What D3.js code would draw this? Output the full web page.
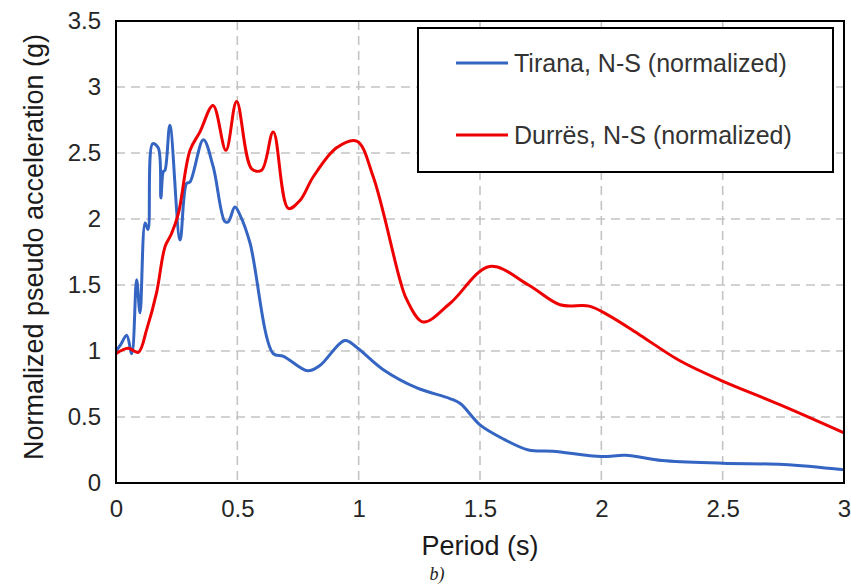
<!DOCTYPE html>
<html><head><meta charset="utf-8">
<script src="https://cdn.jsdelivr.net/npm/d3@7"></script>
<style>body{margin:0;background:#fff}svg{display:block}</style>
</head><body>
<svg id="c" width="851" height="586"></svg>
<script>
const xTicks = [0, 0.5, 1, 1.5, 2, 2.5, 3];
const yTicks = [0, 0.5, 1, 1.5, 2, 2.5, 3, 3.5];
const seriesNames = ["Tirana, N-S (normalized)", "Durrës, N-S (normalized)"];
const seriesColors = ["#3565c2", "#ee0000"];

const tiranaT = [0, 0.02, 0.044, 0.065, 0.085, 0.099, 0.12, 0.132, 0.151, 0.174, 0.185, 0.195, 0.202, 0.222, 0.264, 0.291, 0.305, 0.36, 0.40, 0.449, 0.463, 0.49, 0.511, 0.552, 0.648, 0.69, 0.79, 0.84, 0.943, 0.99, 1.10, 1.24, 1.376, 1.42, 1.5, 1.6, 1.7, 1.8, 2.0, 2.1, 2.25, 2.5, 2.75, 3.0];
const tiranaV = [1.0, 1.05, 1.12, 0.98, 1.54, 1.29, 1.97, 1.92, 2.57, 2.54, 2.16, 2.36, 2.37, 2.71, 1.84, 2.27, 2.28, 2.60, 2.40, 1.98, 1.98, 2.09, 2.03, 1.82, 0.98, 0.96, 0.85, 0.89, 1.08, 1.03, 0.86, 0.72, 0.64, 0.60, 0.44, 0.33, 0.25, 0.24, 0.20, 0.21, 0.17, 0.15, 0.14, 0.10];

const durresT = [0, 0.05, 0.092, 0.126, 0.167, 0.202, 0.229, 0.257, 0.305, 0.346, 0.40, 0.453, 0.497, 0.559, 0.60, 0.648, 0.71, 0.758, 0.813, 0.909, 0.992, 1.06, 1.17, 1.198, 1.266, 1.376, 1.54, 1.7, 1.83, 1.95, 2.03, 2.16, 2.32, 2.49, 2.74, 3.0];
const durresV = [0.98, 1.02, 0.99, 1.16, 1.44, 1.79, 1.89, 2.04, 2.52, 2.66, 2.86, 2.52, 2.89, 2.38, 2.37, 2.66, 2.08, 2.14, 2.32, 2.54, 2.59, 2.32, 1.54, 1.39, 1.22, 1.36, 1.64, 1.50, 1.35, 1.34, 1.27, 1.12, 0.93, 0.78, 0.59, 0.38];

const svg = d3.select("#c");
const L = 116, R = 844, T = 21, B = 483;
const x = d3.scaleLinear().domain([0, 3]).range([L, R]);
const y = d3.scaleLinear().domain([0, 3.5]).range([B, T]);
const font = "'Liberation Sans', Arial, sans-serif";

// grid
const g = svg.append("g");
g.selectAll(".vg").data(xTicks.slice(1, -1)).enter().append("line")
  .attr("x1", d => x(d)).attr("x2", d => x(d)).attr("y1", T).attr("y2", B)
  .attr("stroke", "#c4c4c4").attr("stroke-width", 1.6).attr("stroke-dasharray", "9,6");
g.selectAll(".hg").data(yTicks.slice(1, -1)).enter().append("line")
  .attr("x1", L).attr("x2", R).attr("y1", d => y(d)).attr("y2", d => y(d))
  .attr("stroke", "#c4c4c4").attr("stroke-width", 1.6).attr("stroke-dasharray", "9,6");

// axes labels via d3 axes
const xAxis = svg.append("g").attr("transform", `translate(0,${B})`)
  .call(d3.axisBottom(x).tickValues(xTicks).tickSize(0).tickPadding(17).tickFormat(d3.format("")));
const yAxis = svg.append("g").attr("transform", `translate(${L},0)`)
  .call(d3.axisLeft(y).tickValues(yTicks).tickSize(0).tickPadding(15).tickFormat(d3.format("")));
[xAxis, yAxis].forEach(a => {
  a.select(".domain").remove();
  a.selectAll("text").attr("font-family", font).attr("font-size", 24).attr("fill", "#262626");
});

// lines
const line = d3.line().x(d => x(d[0])).y(d => y(d[1])).curve(d3.curveCatmullRom.alpha(0.5));
const tData = tiranaT.map((t, i) => [t, tiranaV[i]]);
const dData = durresT.map((t, i) => [t, durresV[i]]);
svg.append("path").datum(tData).attr("d", line).attr("fill", "none")
  .attr("stroke", seriesColors[0]).attr("stroke-width", 3).attr("stroke-linejoin", "round");
svg.append("path").datum(dData).attr("d", line).attr("fill", "none")
  .attr("stroke", seriesColors[1]).attr("stroke-width", 3).attr("stroke-linejoin", "round");

// frame
svg.append("rect").attr("x", L).attr("y", T).attr("width", R - L).attr("height", B - T)
  .attr("fill", "none").attr("stroke", "#000").attr("stroke-width", 2);

// legend
const lg = svg.append("g");
lg.append("rect").attr("x", 418).attr("y", 28).attr("width", 415).attr("height", 144)
  .attr("fill", "#fff").attr("stroke", "#000").attr("stroke-width", 2);
[63, 135].forEach((ly, i) => {
  lg.append("line").attr("x1", 456).attr("x2", 508).attr("y1", ly).attr("y2", ly)
    .attr("stroke", seriesColors[i]).attr("stroke-width", 3);
  lg.append("text").attr("x", 514).attr("y", ly + 9).text(seriesNames[i])
    .attr("font-family", font).attr("font-size", 25).attr("fill", "#333");
});

// titles
svg.append("text").attr("x", 480).attr("y", 555).attr("text-anchor", "middle")
  .attr("font-family", font).attr("font-size", 27).attr("fill", "#1a1a1a").text("Period (s)");
svg.append("text").attr("transform", "translate(43,247) rotate(-90)").attr("text-anchor", "middle")
  .attr("font-family", font).attr("font-size", 27).attr("fill", "#1a1a1a").text("Normalized  pseudo acceleration (g)");
svg.append("text").attr("x", 437).attr("y", 580).attr("text-anchor", "middle")
  .attr("font-family", "'Liberation Serif', 'Times New Roman', serif").attr("font-style", "italic")
  .attr("font-size", 18).attr("fill", "#222").text("b)");
</script>
</body></html>
